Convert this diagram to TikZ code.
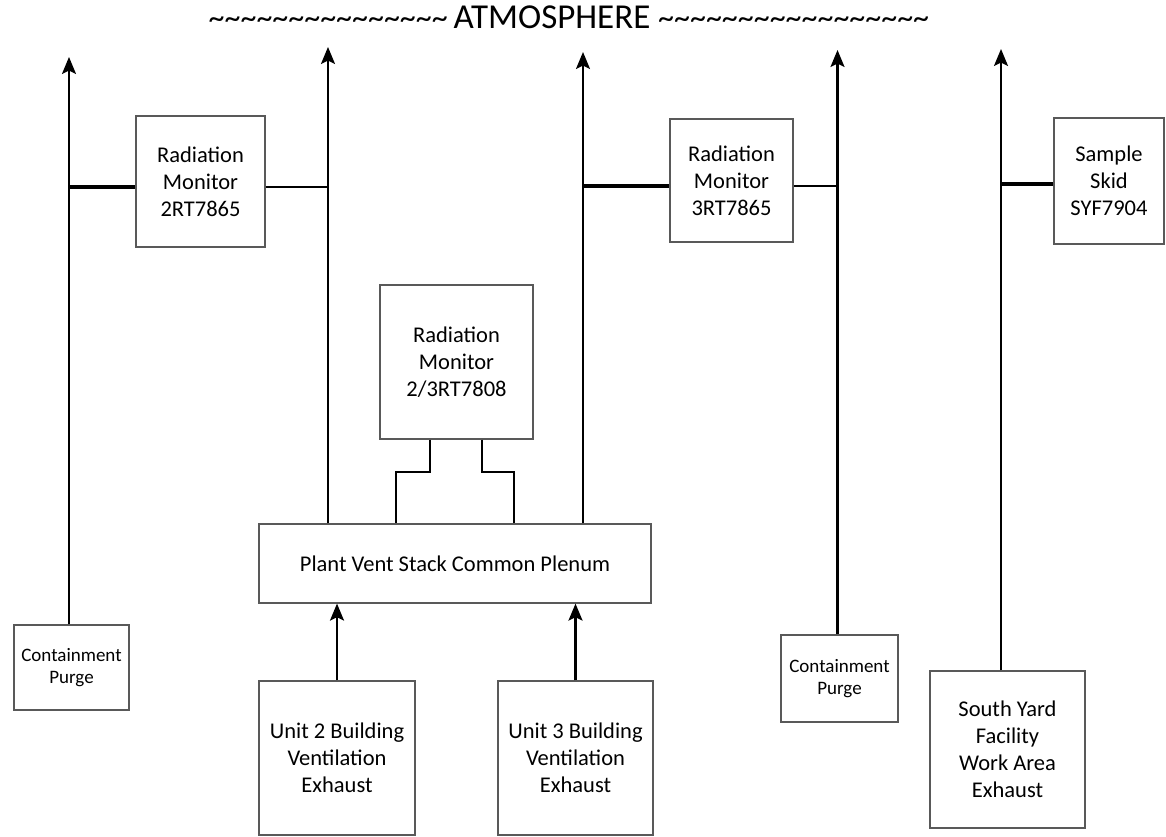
\documentclass[tikz,border=0pt]{standalone}
\usepackage{fontspec}
\setmainfont{Carlito}
\usetikzlibrary{arrows.meta}
\newcommand{\tld}[1]{\foreach \i in {1,...,#1}{\symbol{126}}}
\begin{document}
\begin{tikzpicture}[x=1pt,y=-1pt,
  box/.style={draw=black!65, line width=1.2pt, fill=white, inner sep=0pt, align=center,
    font=\fontsize{22.5}{27}\selectfont},
  smallbox/.style={box, font=\fontsize{19}{22}\selectfont},
  flow/.style={line width=2.2pt, -{Stealth[length=17pt,width=14pt,inset=3.5pt]}},
  heavy/.style={line width=3.5pt},
  light/.style={line width=1.3pt},
  conn/.style={line width=2.5pt},
  titletext/.style={inner sep=0pt, anchor=base}]
\useasboundingbox (0,0) rectangle (1166,837);
\fill[white] (0,0) rectangle (1166,837);

% title
\node[titletext, font=\fontsize{35}{40}\selectfont] (title) at (552,29) {ATMOSPHERE};
\node[titletext, anchor=base east, font=\fontsize{32}{38}\selectfont] (tl) at (448,29) {\tld{15}};
\node[titletext, anchor=base west, font=\fontsize{32}{38}\selectfont] (tr) at (658,29) {\tld{17}};

% boxes
\node[box, minimum width=129pt, minimum height=131pt] (rm2) at (200.5,181.5) {Radiation\\Monitor\\2RT7865};
\node[box, minimum width=123pt, minimum height=123pt] (rm3) at (731.5,180.5) {Radiation\\Monitor\\3RT7865};
\node[box, minimum width=110pt, minimum height=126pt] (ss) at (1109,181) {Sample\\Skid\\SYF7904};
\node[box, minimum width=153pt, minimum height=154pt] (rm23) at (456.5,362) {Radiation\\Monitor\\2/3RT7808};
\node[box, minimum width=392pt, minimum height=79pt] (plen) at (455,563.5) {Plant Vent Stack Common Plenum};
\node[smallbox, minimum width=115pt, minimum height=85pt] (cp1) at (71.5,667.5) {Containment\\Purge};
\node[smallbox, minimum width=117pt, minimum height=87pt] (cp2) at (839.5,678.5) {Containment\\Purge};
\node[box, minimum width=156pt, minimum height=154pt] (u2) at (337,758) {Unit 2 Building\\Ventilation\\Exhaust};
\node[box, minimum width=155pt, minimum height=154pt] (u3) at (575.5,758) {Unit 3 Building\\Ventilation\\Exhaust};
\node[box, minimum width=155pt, minimum height=157pt] (sy) at (1007.5,749.5) {South Yard\\Facility\\Work Area\\Exhaust};

% arrow tops
\coordinate (t1) at (69,57);
\coordinate (t2) at (328,47);
\coordinate (t3) at (583,52);
\coordinate (t4) at (837.5,50);
\coordinate (t5) at (1001,49);

\draw[flow] (cp1.north -| t1) -- (t1);
\draw[flow] (plen.north -| t2) -- (t2);
\draw[flow] (plen.north -| t3) -- (t3);
\draw[flow] (cp2.north -| t4) -- (t4);
\draw[flow] (sy.north -| t5) -- (t5);

% monitor taps
\coordinate (h1) at (69,187);
\draw[heavy] (h1) -- (h1 -| rm2.west);
\draw[light] (h1 -| rm2.east) -- (h1 -| t2);
\coordinate (h3) at (583,186);
\draw[heavy] (h3) -- (h3 -| rm3.west);
\draw[light] (h3 -| rm3.east) -- (h3 -| t4);
\coordinate (h5) at (1001,184);
\draw[heavy] (h5) -- (h5 -| ss.west);

% 2/3RT7808 connections to plenum
\coordinate (c1) at (430,472);
\coordinate (c2) at (396,472);
\coordinate (c3) at (482,472);
\coordinate (c4) at (514,472);
\draw[conn] (rm23.south -| c1) -- (c1) -- (c2) -- (c2 |- plen.north);
\draw[conn] (rm23.south -| c3) -- (c3) -- (c4) -- (c4 |- plen.north);

% unit exhausts into plenum
\draw[flow, line width=2.5pt] (u2.north) -- (u2.north |- plen.south);
\draw[flow, line width=2.5pt] (u3.north) -- (u3.north |- plen.south);
\end{tikzpicture}
\end{document}
